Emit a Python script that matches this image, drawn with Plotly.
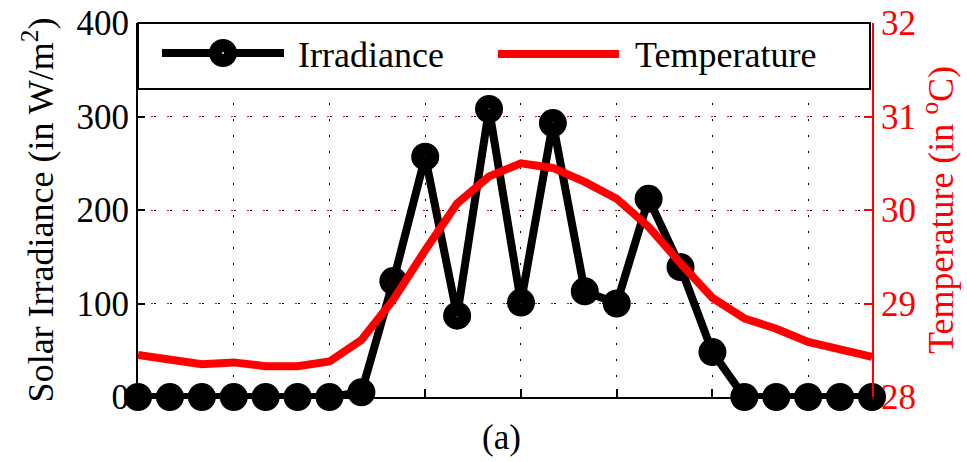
import plotly.graph_objects as go

hours = list(range(24))
irradiance = [0, 0, 0, 0, 0, 0, 0, 5, 124, 257, 87, 308, 101, 293, 113, 100,
              212, 139, 48, 0, 0, 0, 0, 0]
temperature = [28.45, 28.40, 28.35, 28.37, 28.33, 28.33, 28.38, 28.61, 29.04,
               29.57, 30.07, 30.36, 30.50, 30.45, 30.30, 30.12, 29.82, 29.43,
               29.06, 28.84, 28.73, 28.59, 28.50, 28.43]
x_ticks = [3, 6, 9, 12, 15, 18, 21]
y1_ticks = [0, 100, 200, 300, 400]
y2_ticks = [28, 29, 30, 31, 32]
series_names = ["Irradiance", "Temperature"]

FONT = "Liberation Serif"

fig = go.Figure()
fig.add_trace(go.Scatter(
    x=hours, y=irradiance, mode="lines+markers", name=series_names[0],
    line=dict(color="black", width=8),
    marker=dict(symbol="circle-open", size=15, color="black", line=dict(width=13, color="black")),
    cliponaxis=False, showlegend=False, yaxis="y"))
fig.add_trace(go.Scatter(
    x=hours, y=temperature, mode="lines", name=series_names[1],
    line=dict(color="red", width=8), cliponaxis=False, showlegend=False, yaxis="y2"))

# Plot-area pixel geometry (for manual legend)
L, R, T, B = 138, 872, 23, 397
W, H = R - L, B - T
def px(x):
    return (x - L) / W
def py(y):
    return (B - y) / H

shapes = [
    dict(type="rect", xref="paper", yref="paper", x0=0, x1=px(870), y0=py(89), y1=1,
         line=dict(color="black", width=2), fillcolor="white", layer="above"),
    dict(type="line", xref="paper", yref="paper", x0=px(162), x1=px(284), y0=py(53), y1=py(53),
         line=dict(color="black", width=8), layer="above"),
    dict(type="circle", xref="paper", yref="paper", x0=px(223 - 7.5), x1=px(223 + 7.5),
         y0=py(53 + 7.5), y1=py(53 - 7.5), line=dict(color="black", width=13),
         fillcolor="white", layer="above"),
    dict(type="line", xref="paper", yref="paper", x0=px(498), x1=px(619), y0=py(54), y1=py(54),
         line=dict(color="red", width=8), layer="above"),
]

annotations = [
    dict(text=series_names[0], xref="paper", yref="paper", x=px(296), y=py(55),
         xanchor="left", yanchor="middle", showarrow=False,
         font=dict(family=FONT, size=36, color="black")),
    dict(text=series_names[1], xref="paper", yref="paper", x=px(633), y=py(55),
         xanchor="left", yanchor="middle", showarrow=False,
         font=dict(family=FONT, size=36, color="black")),
    dict(text="(a)", xref="paper", yref="paper", x=px(501), y=py(437),
         xanchor="center", yanchor="middle", showarrow=False,
         font=dict(family=FONT, size=35, color="black")),
]

fig.update_layout(
    width=967, height=462,
    margin=dict(l=L, r=967 - R, t=T, b=462 - B, autoexpand=False),
    paper_bgcolor="white", plot_bgcolor="white",
    font=dict(family=FONT, size=35, color="black"),
    shapes=shapes, annotations=annotations,
    xaxis=dict(range=[0, 23], tickvals=x_ticks, showticklabels=False,
               ticks="inside", ticklen=8, tickwidth=2, tickcolor="black",
               showgrid=True, gridcolor="black", gridwidth=1, griddash="2px,14px",
               showline=True, linecolor="black", linewidth=2, zeroline=False),
    yaxis=dict(range=[0, 400], tickvals=y1_ticks, ticks="inside", ticklen=7,
               tickwidth=2, tickcolor="black", showline=True, linecolor="black",
               linewidth=2, zeroline=False, showgrid=True, gridcolor="black",
               gridwidth=1, griddash="2px,14px",
               tickfont=dict(family=FONT, size=35, color="black"),
               title=dict(text="Solar Irradiance (in W/m<sup>2</sup>)", standoff=12,
                          font=dict(family=FONT, size=36, color="black"))),
    yaxis2=dict(range=[28, 32], tickvals=y2_ticks, overlaying="y", side="right",
                ticks="inside", ticklen=8, tickwidth=2, tickcolor="red",
                showline=True, linecolor="red", linewidth=2, zeroline=False,
                showgrid=True, gridcolor="red", gridwidth=1, griddash="0px,13px,2px,1px",
                tickfont=dict(family=FONT, size=35, color="red"),
                title=dict(text="Temperature (in <sup>o</sup>C)", standoff=7,
                           font=dict(family=FONT, size=36, color="red"))),
)

fig.write_html("out.html")
